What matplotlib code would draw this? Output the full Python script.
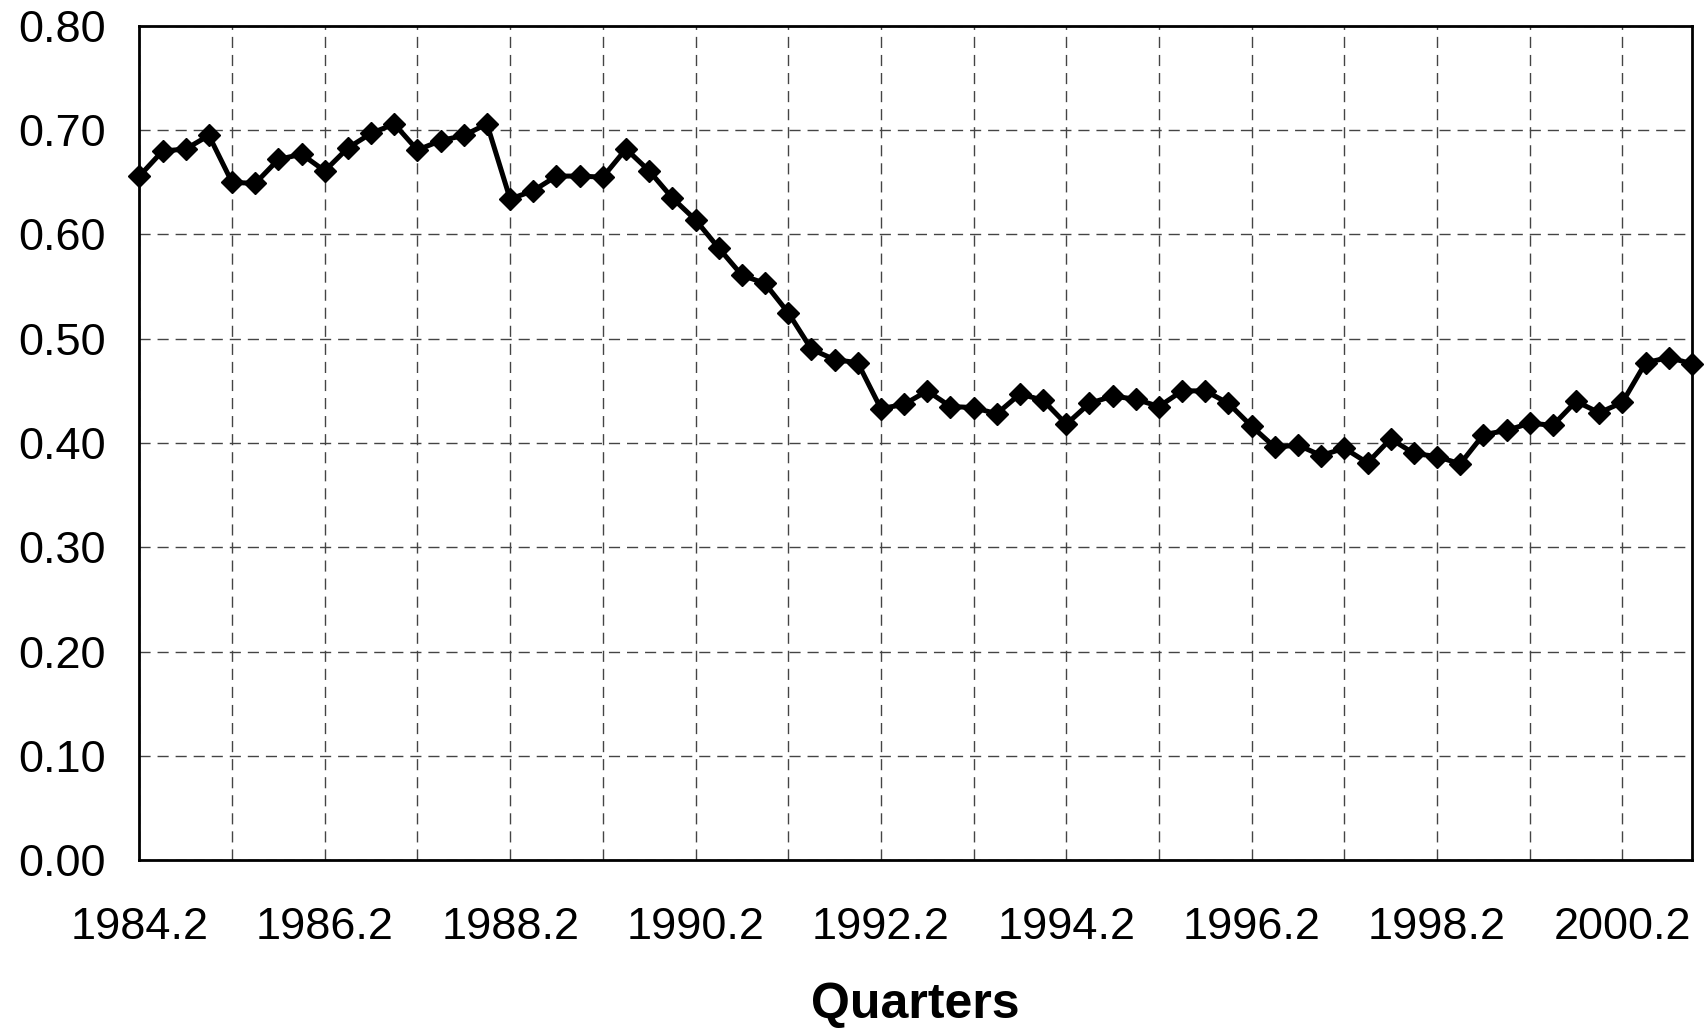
import matplotlib
matplotlib.use("Agg")
import matplotlib.pyplot as plt
import numpy as np

# Quarterly values, 1984.2 .. 2001.1
values = [
    0.656, 0.680, 0.682, 0.695,   # 1984.2 - 1985.1
    0.650, 0.649, 0.672, 0.677,   # 1985.2 - 1986.1
    0.661, 0.683, 0.697, 0.706,   # 1986.2 - 1987.1
    0.681, 0.690, 0.695, 0.706,   # 1987.2 - 1988.1
    0.634, 0.642, 0.656, 0.656,   # 1988.2 - 1989.1
    0.655, 0.682, 0.661, 0.635,   # 1989.2 - 1990.1
    0.614, 0.587, 0.561, 0.553,   # 1990.2 - 1991.1
    0.525, 0.490, 0.480, 0.477,   # 1991.2 - 1992.1
    0.433, 0.437, 0.450, 0.435,   # 1992.2 - 1993.1
    0.434, 0.428, 0.447, 0.441,   # 1993.2 - 1994.1
    0.418, 0.438, 0.445, 0.442,   # 1994.2 - 1995.1
    0.435, 0.450, 0.450, 0.438,   # 1995.2 - 1996.1
    0.416, 0.396, 0.398, 0.388,   # 1996.2 - 1997.1
    0.395, 0.381, 0.404, 0.390,   # 1997.2 - 1998.1
    0.387, 0.380, 0.408, 0.412,   # 1998.2 - 1999.1
    0.419, 0.417, 0.440, 0.429,   # 1999.2 - 2000.1
    0.439, 0.477, 0.482, 0.476,   # 2000.2 - 2001.1
]
start_year, start_q = 1984, 2
quarters = []
y, q = start_year, start_q
for _ in values:
    quarters.append(f"{y}.{q}")
    q += 1
    if q > 4:
        q = 1
        y += 1

x_labels = ["1984.2", "1986.2", "1988.2", "1990.2", "1992.2",
            "1994.2", "1996.2", "1998.2", "2000.2"]
y_ticks = [0.0, 0.1, 0.2, 0.3, 0.4, 0.5, 0.6, 0.7, 0.8]
x_title = "Quarters"

plt.rcParams['font.family'] = ['Liberation Sans', 'DejaVu Sans']

fig = plt.figure(figsize=(17.08, 10.30), dpi=100)
ax = fig.add_axes([0.0816, 0.165, 0.9090, 0.8098])

xs = np.arange(len(values))
ax.plot(xs, values, color='black', lw=3.6, marker='D', ms=11,
        markerfacecolor='black', markeredgecolor='black', zorder=3,
        clip_on=False)

ax.set_xlim(0, len(values) - 1)
ax.set_ylim(0, 0.8)

ax.set_yticks(y_ticks)
ax.set_yticklabels([f"{v:.2f}" for v in y_ticks])

grid_pos = [i for i, s in enumerate(quarters) if s.endswith(".2")]
ax.set_xticks(grid_pos)
ax.set_xticklabels([quarters[i] if quarters[i] in x_labels else "" for i in grid_pos])

ax.grid(True, which='major', color='#444444', linestyle=(0, (8, 5)), lw=1.0)
ax.set_axisbelow(True)

ax.tick_params(axis='both', length=0, labelsize=32.5)
ax.tick_params(axis='y', pad=24)
ax.tick_params(axis='x', pad=34)

for s in ax.spines.values():
    s.set_linewidth(2)
    s.set_color('black')

ax.set_xlabel(x_title, fontsize=36, fontweight='bold', labelpad=24)

fig.savefig("out.png", dpi=100)
